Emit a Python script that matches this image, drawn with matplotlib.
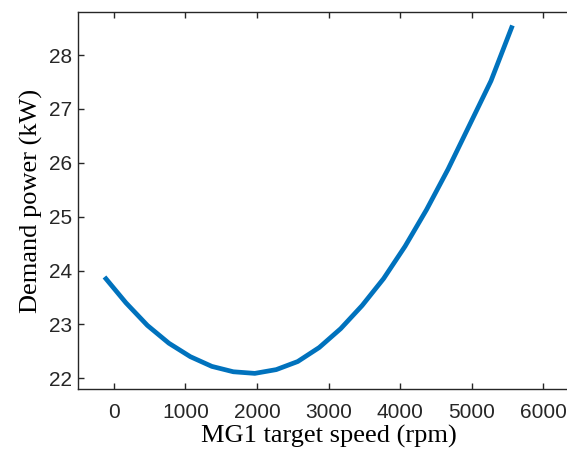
import matplotlib
matplotlib.use("Agg")
import matplotlib.pyplot as plt

speed_rpm = [-130, 170, 470, 770, 1070, 1370, 1670, 1970, 2270, 2570,
             2870, 3170, 3470, 3770, 4070, 4370, 4670, 4970, 5270, 5570]
demand_kw = [23.88, 23.40, 22.98, 22.65, 22.40, 22.22, 22.12, 22.09, 22.16, 22.31,
             22.57, 22.92, 23.35, 23.85, 24.45, 25.13, 25.88, 26.70, 27.52, 28.55]
x_ticks = [0, 1000, 2000, 3000, 4000, 5000, 6000]
y_ticks = [22, 23, 24, 25, 26, 27, 28]

fig = plt.figure(figsize=(5.67, 4.58), dpi=100)
ax = fig.add_axes([78/567, 1-389/458, (579-78)/567, (389-12)/458])
ax.plot(speed_rpm, demand_kw, color="#0072BD", linewidth=3.4, solid_capstyle="butt")
ax.set_xlim(-500, 6500)
ax.set_ylim(21.8, 28.8)
ax.set_xticks(x_ticks)
ax.set_yticks(y_ticks)
for s in ax.spines.values():
    s.set_linewidth(1.0)
    s.set_color("#262626")
ax.spines["right"].set_visible(False)
ax.tick_params(direction="in", length=4, width=1.0, color="#262626",
               top=True, right=False, labelsize=15, labelcolor="#262626")
ax.tick_params(axis="x", pad=10)
ax.tick_params(axis="y", pad=4.5)
for lab in ax.get_xticklabels() + ax.get_yticklabels():
    lab.set_fontfamily("Liberation Sans")
ax.set_xlabel("MG1 target speed (rpm)", fontfamily="Liberation Serif", fontsize=19, labelpad=2)
ax.set_ylabel("Demand power (kW)", fontfamily="Liberation Serif", fontsize=19, labelpad=4)
fig.savefig("out.png", dpi=100)
